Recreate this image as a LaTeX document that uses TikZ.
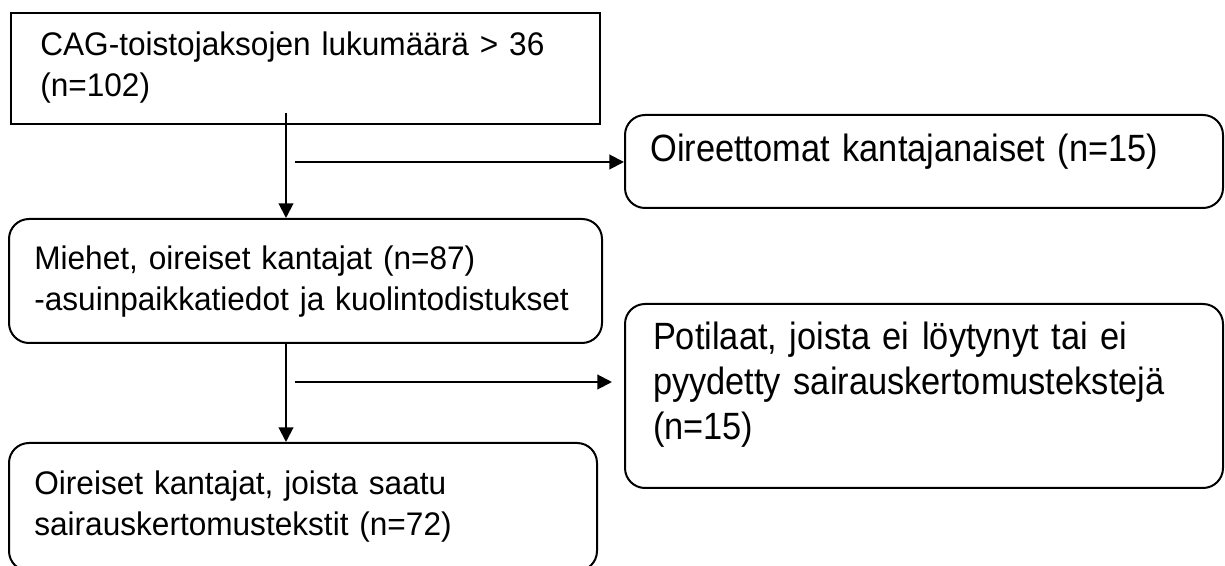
\documentclass[tikz,border=0pt]{standalone}
\usepackage{fontspec}
\setmainfont{Liberation Sans}
\newfontfamily\leftfamily[FakeStretch=0.967]{Liberation Sans}
\newfontfamily\narrowfamily[FakeStretch=0.905]{Liberation Sans}
\usetikzlibrary{arrows.meta}
\usetikzlibrary{calc}
\newcommand{\leftfont}{\leftfamily\fontsize{24.5pt}{30.75pt}\selectfont}
\newcommand{\rightfont}{\narrowfamily\fontsize{28.5pt}{33.75pt}\selectfont}
\newcommand{\drawflow}{\draw[-{Triangle[length=11pt,width=11pt]}, line width=1.5pt]}
\tikzset{
    flowbox/.style={draw, line width=1.5pt, align=left, anchor=north west, inner xsep=19pt, inner ysep=0pt},
    roundbox/.style={flowbox, rounded corners=15pt}
}

\begin{document}
\begin{tikzpicture}[x=0.75pt, y=-0.75pt]
    \useasboundingbox (0,0) rectangle (1225,566);

    % Draw boxes
    \node[flowbox, font=\leftfont, inner xsep=22pt, text width=397.75pt, text height=32.25pt, text depth=51pt] (total) at (10,12)
        {CAG-toistojaksojen lukumäärä > 36\\(n=102)};
    \node[roundbox, font=\leftfont, text width=406.75pt, text height=38.25pt, text depth=54.75pt] (men) at (8,218)
        {Miehet, oireiset kantajat (n=87)\\-asuinpaikkatiedot ja kuolintodistukset};
    \node[roundbox, font=\leftfont, text width=403pt, text height=38.25pt, text depth=57.75pt] (cases) at (8,442)
        {Oireiset kantajat, joista saatu\\sairauskertomustekstit (n=72)};
    \node[roundbox, font=\rightfont, text width=410.5pt, text height=35.25pt, text depth=34.5pt] (women) at (624,114)
        {Oireettomat kantajanaiset (n=15)};
    \node[roundbox, font=\rightfont, inner xsep=21pt, text width=406.5pt, text height=34.5pt, text depth=103.5pt] (missing) at (624,303)
        {Potilaat, joista ei löytynyt tai ei\\pyydetty sairauskertomustekstejä\\(n=15)};

    % Draw flow
    \coordinate (trunk) at (286,113);
    \drawflow (trunk) -- (trunk |- men.north);
    \drawflow (trunk |- men.south) -- (trunk |- cases.north);

    \coordinate (branch1) at (295,162);
    \coordinate (branch2) at (295,382);
    \drawflow (branch1) -- (branch1 -| women.west);
    \drawflow (branch2) -- ($(branch2 -| missing.west)+(-12,0)$);
\end{tikzpicture}
\end{document}
